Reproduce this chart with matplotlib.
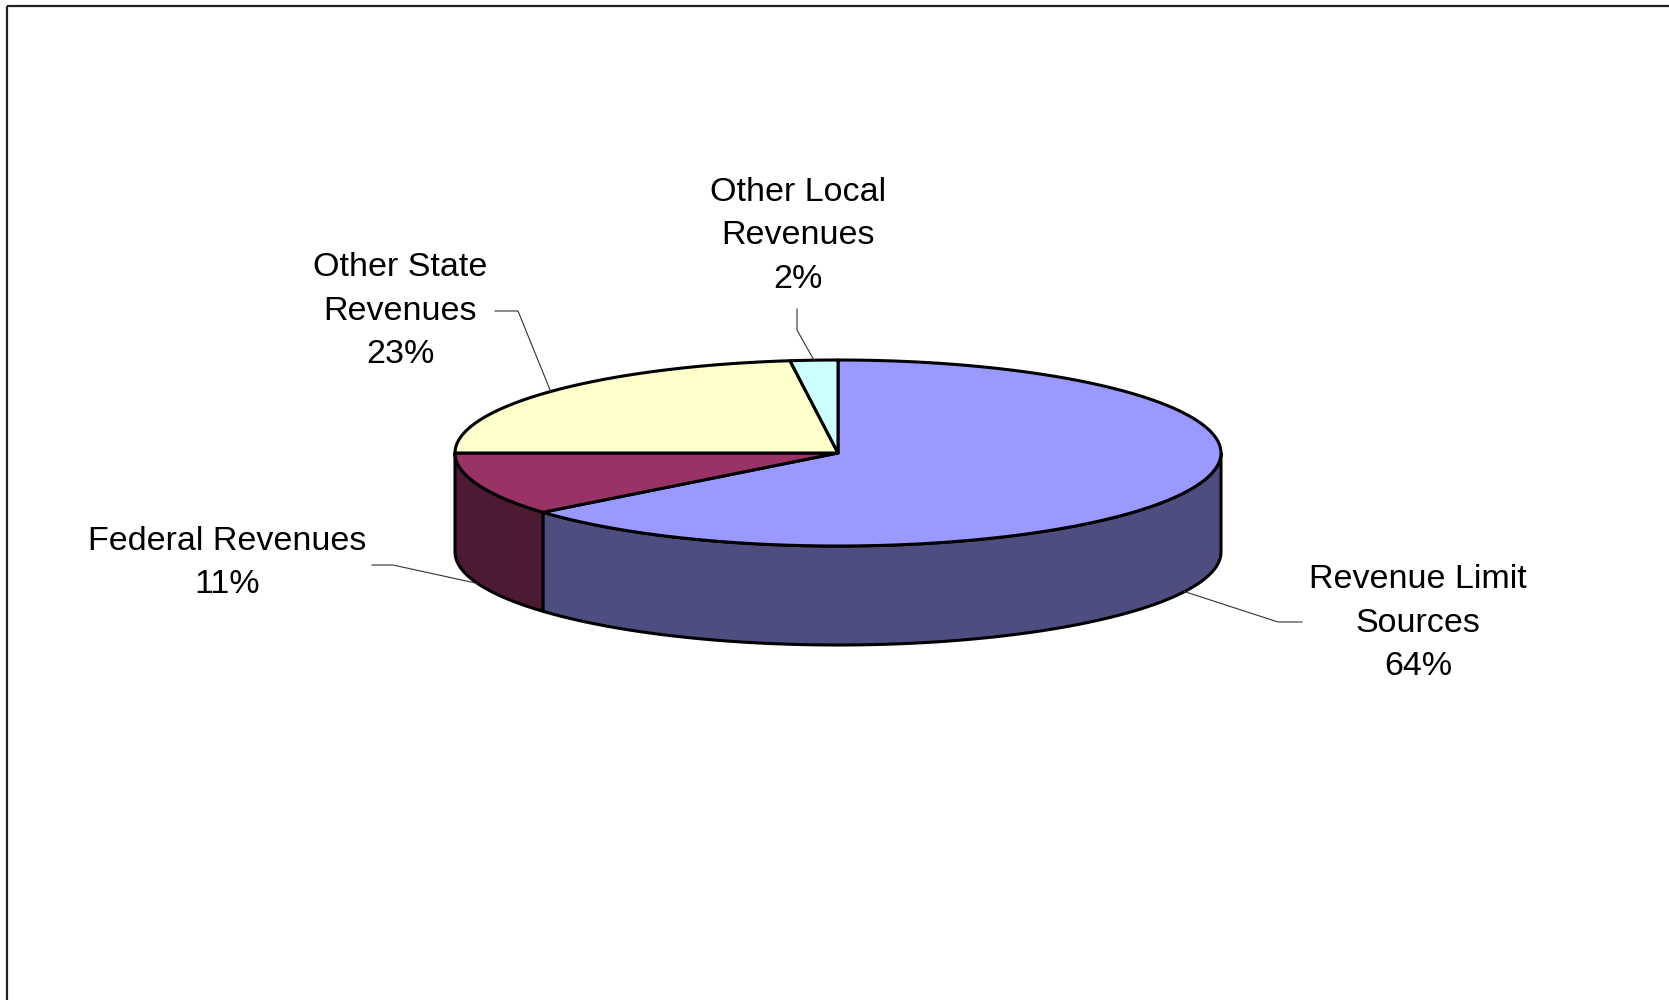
import numpy as np
import matplotlib
matplotlib.use("Agg")
import matplotlib.pyplot as plt
from matplotlib.patches import Rectangle

# Revenue shares (percent), drawn clockwise from 12 o'clock
categories = ["Revenue Limit\nSources", "Federal Revenues", "Other State\nRevenues", "Other Local\nRevenues"]
shares = [64, 11, 23, 2]
top_colors = ["#9999FF", "#993366", "#FFFFCC", "#CCFFFF"]
side_colors = ["#4D4D80", "#4D1A33", "#80806A", "#6A8080"]

# Label placement (pixel space) and leader elbow points
label_pos = [(1418, 623), (227, 563), (400, 311), (798, 236)]
leader_start = [(1302, 622), (372, 565), (495, 311), (797, 309)]
leader_elbow = [(1278, 622), (393, 565), (518, 311), (797, 330)]

W, H = 1669, 1000
fig = plt.figure(figsize=(W / 100, H / 100), dpi=100)
ax = fig.add_axes([0, 0, 1, 1])
ax.set_xlim(0, W)
ax.set_ylim(H, 0)
ax.axis("off")

# Chart frame
ax.add_patch(Rectangle((6.5, 5.5), W + 20, H + 20, fill=False,
                       edgecolor="#222222", linewidth=1.6, zorder=1))

# Ellipse geometry of the tilted pie
cx, cy = 838, 453
rx, ry = 383, 93
depth = 99
lw = 2.2


def pt(a_deg, dy=0.0):
    a = np.radians(a_deg)
    return cx + rx * np.cos(a), cy - ry * np.sin(a) + dy


def arc(a1, a2, dy=0.0, n=200):
    a = np.radians(np.linspace(a1, a2, n))
    return cx + rx * np.cos(a), cy - ry * np.sin(a) + dy


total = float(sum(shares))
starts, ends = [], []
ang = 90.0
for v in shares:
    span = 360.0 * v / total
    starts.append(ang)
    ends.append(ang - span)
    ang -= span

# Side walls (visible only on the front half: angles in [-180, 0])
for s, e, sc in zip(starts, ends, side_colors):
    vis_hi = min(s, 0.0)
    vis_lo = max(e, -180.0)
    if vis_hi <= vis_lo:
        continue
    x1, y1 = arc(vis_hi, vis_lo)
    x2, y2 = arc(vis_lo, vis_hi, dy=depth)
    xs = np.concatenate([x1, x2])
    ys = np.concatenate([y1, y2])
    ax.fill(xs, ys, facecolor=sc, edgecolor="black", linewidth=lw,
            joinstyle="round", zorder=3)

# Top faces
for s, e, tc in zip(starts, ends, top_colors):
    xa, ya = arc(s, e)
    xs = np.concatenate([[cx], xa, [cx]])
    ys = np.concatenate([[cy], ya, [cy]])
    ax.fill(xs, ys, facecolor=tc, edgecolor="black", linewidth=lw,
            joinstyle="round", zorder=4)

# Labels and leader lines
for i, (cat, v) in enumerate(zip(categories, shares)):
    mid = (starts[i] + ends[i]) / 2.0
    mid_n = ((mid + 180) % 360) - 180
    if -180 <= mid_n <= 0:
        ax_, ay_ = pt(mid, dy=depth)
    else:
        ax_, ay_ = pt(mid)
    sx, sy = leader_start[i]
    ex, ey = leader_elbow[i]
    ax.plot([sx, ex, ax_], [sy, ey, ay_], color="#333333", linewidth=0.8, zorder=5)
    lx, ly = label_pos[i]
    ax.text(lx, ly, f"{cat}\n{v:.0f}%", ha="center", va="center",
            multialignment="center", fontsize=24.5, family="Liberation Sans",
            linespacing=1.53, color="black", zorder=6)

fig.savefig("out.png", dpi=100, facecolor="white")
